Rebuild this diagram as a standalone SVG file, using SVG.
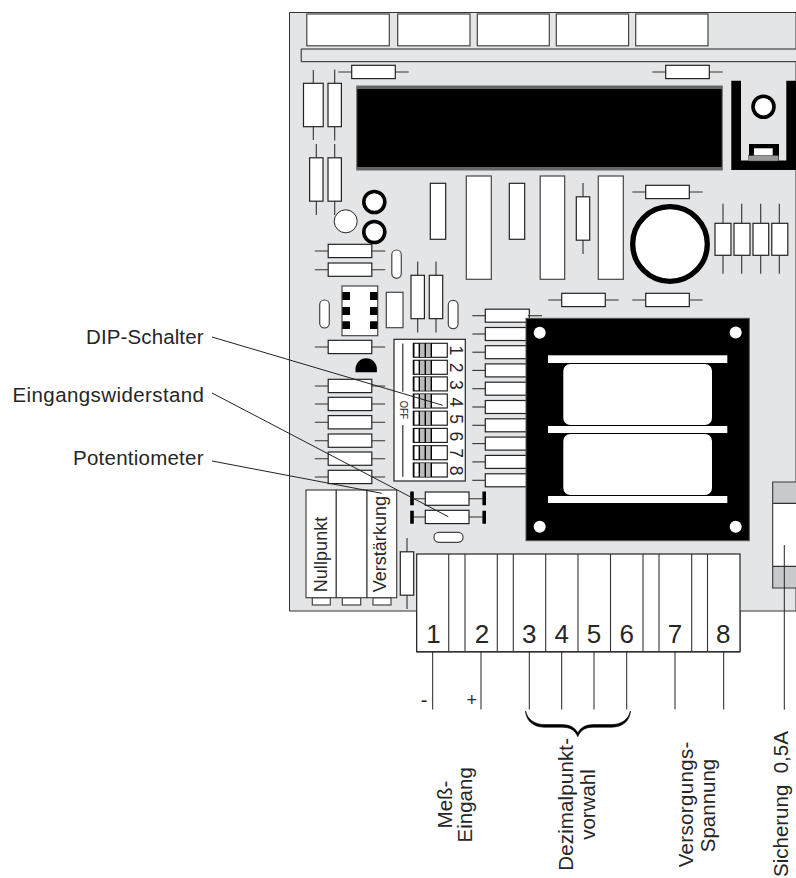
<svg xmlns="http://www.w3.org/2000/svg" width="796" height="878" viewBox="0 0 796 878">
<style>
.p{fill:#fff;stroke:#222;stroke-width:1.200}
.g{fill:#fff;stroke:#444;stroke-width:1.200}
.l{stroke:#333;stroke-width:1.100;fill:none}
.b{fill:#000}
.ll{stroke:#222;stroke-width:1;fill:none}
text{font-family:"Liberation Sans",Arial,sans-serif;fill:#262626}
.t{font-size:20.5px}
.r{font-size:18px}
.n{font-size:26px;text-anchor:middle}
.d{font-size:17.5px;text-anchor:middle}
</style>
<defs>
<g id="rh"><path class="l" d="M-35.200 0H-21.800M21.800 0H35.200"/><rect class="p" x="-21.800" y="-6.700" width="43.600" height="13.300"/></g>
<g id="rv"><path class="l" d="M0-35.500V-21.500M0 21.500V35.500"/><rect class="p" x="-6.700" y="-21.700" width="13.400" height="43.400"/></g>
<g id="sw"><rect class="p" x="0" y="0" width="34" height="14"/><rect x="6" y="0.500" width="12" height="13" fill="#bbb"/><path d="M0.500 0V14M6 0V14M12 0V14M18 0V14" stroke="#000" stroke-width="1.400" fill="none"/></g>
<g id="rr"><path class="l" d="M-13 0H0"/><rect class="p" x="0" y="-6.500" width="44" height="13"/></g>
</defs>

<g id="board"><path d="M796 12.500H289.500V611H416.500V652H740V611H796Z" fill="#e4e5e7" stroke="#333" stroke-width="1"/></g>

<g id="top-connectors">
<rect class="g" x="306.800" y="14" width="82.500" height="31.800"/>
<rect class="g" x="397.700" y="14" width="72.300" height="31.800"/>
<rect class="g" x="477.300" y="14" width="72" height="31.800"/>
<rect class="g" x="556.300" y="14" width="72.300" height="31.800"/>
<rect class="g" x="635.700" y="14" width="72.300" height="31.800"/>
<path d="M796 49H301.200V61.700H796" fill="#e4e5e7" stroke="#222" stroke-width="1"/>
</g>

<g id="resistors-top">
<use href="#rh" x="373.500" y="72"/>
<use href="#rh" x="687.500" y="72"/>
<path class="l" d="M313.300 70V84M313.300 126V140"/><rect class="p" x="303.500" y="83.300" width="19.700" height="43.400"/>
<use href="#rv" x="334.700" y="105"/>
<use href="#rv" x="316.300" y="179.500"/>
<use href="#rv" x="334.700" y="179.500"/>
</g>

<g id="display"><rect x="356.800" y="86" width="365.400" height="84" fill="#000" stroke="#666" stroke-width="1"/><rect x="357" y="86" width="365" height="3" fill="#666"/><rect x="357" y="167" width="365" height="3" fill="#666"/></g>

<g id="heatsink">
<path class="b" d="M731.300 80.700H741V160.500H786.300V80.700H796V170H731.300Z"/>
<circle cx="763.500" cy="106.700" r="10.500" fill="#fff" stroke="#000" stroke-width="3.600"/>
<rect class="b" x="749" y="144" width="30" height="17"/>
<rect x="754" y="148.300" width="18.700" height="7.400" fill="#fff"/>
<rect x="748.500" y="155.700" width="30" height="5.300" fill="#999" stroke="#444" stroke-width="0.500"/>
</g>

<g id="ics">
<rect class="p" x="430.300" y="183.300" width="15.400" height="56"/>
<rect class="g" x="466.300" y="176" width="25" height="103.300"/>
<rect class="p" x="509.300" y="183.300" width="15.400" height="56"/>
<rect class="g" x="540.200" y="176" width="24.500" height="103.300"/>
<use href="#rv" x="583" y="218.500"/>
<rect class="g" x="598.300" y="176" width="25" height="103.300"/>
<use href="#rh" x="667.500" y="192"/>
<use href="#rh" x="583.500" y="300"/>
<use href="#rh" x="667.500" y="300"/>
</g>

<g id="capacitor"><circle cx="670" cy="244" r="37.300" fill="#fff" stroke="#000" stroke-width="5.300"/></g>

<g id="resistors-right">
<path class="l" d="M723 203.700V223M741.700 203.700V223M760.700 203.700V223M779.300 203.700V223M723 255V273.700M741.700 255V273.700M760.700 255V273.700M779.300 255V273.700"/>
<rect class="p" x="715" y="223.300" width="16" height="32"/>
<rect class="p" x="734" y="223.300" width="16" height="32"/>
<rect class="p" x="753" y="223.300" width="15.700" height="32"/>
<rect class="p" x="771.800" y="223.300" width="16" height="32"/>
</g>

<g id="rings">
<circle cx="345.700" cy="221.300" r="11.500" fill="#fff" stroke="#222" stroke-width="1"/>
<circle cx="374.300" cy="202" r="10.500" fill="#fff" stroke="#000" stroke-width="3.600"/>
<circle cx="374.300" cy="232" r="10.500" fill="#fff" stroke="#000" stroke-width="3.600"/>
</g>

<g id="resistors-left">
<use href="#rh" x="350" y="251"/>
<use href="#rh" x="350" y="269.700"/>
<use href="#rh" x="350" y="347"/>
<use href="#rh" x="350" y="386"/>
<use href="#rh" x="350" y="404"/>
<use href="#rh" x="350" y="422.300"/>
<use href="#rh" x="350" y="440.700"/>
<use href="#rh" x="350" y="458.700"/>
<use href="#rh" x="350" y="477"/>
<path class="b" d="M355.500 372.300V369A10.700 10.700 0 0 1 376.900 369V372.300Z"/>
</g>

<g id="pills">
<rect class="g" x="391.800" y="250" width="9.500" height="28.300" rx="4.700"/>
<rect class="g" x="319.700" y="300" width="9.600" height="28" rx="4.700"/>
<rect class="g" x="448.300" y="300.300" width="9.700" height="28.400" rx="4.700"/>
<rect class="g" x="434" y="532.300" width="29" height="10" rx="4.700"/>
</g>

<g id="ic-socket">
<rect class="g" x="342" y="286" width="35.700" height="49.700"/>
<path class="b" d="M342.300 292H350V300H342.300ZM342.300 307H350V315H342.300ZM342.300 321.300H350V329H342.300ZM370 292H377.500V300H370ZM370 307H377.500V315H370ZM370 321.300H377.500V329H370Z"/>
<rect class="g" x="386.300" y="292.300" width="16.700" height="35.400"/>
<use href="#rv" x="417.700" y="297"/>
<use href="#rv" x="436" y="297"/>
</g>

<g id="resistor-stack">
<use href="#rr" x="485.300" y="315.700"/>
<path class="l" d="M528 315.700H542"/>
<use href="#rr" x="485.300" y="334"/>
<use href="#rr" x="485.300" y="352.200"/>
<use href="#rr" x="485.300" y="370.400"/>
<use href="#rr" x="485.300" y="388.700"/>
<use href="#rr" x="485.300" y="407"/>
<use href="#rr" x="485.300" y="425.300"/>
<use href="#rr" x="485.300" y="443.600"/>
<use href="#rr" x="485.300" y="461.900"/>
<use href="#rr" x="485.300" y="480.300"/>
</g>

<g id="transformer">
<rect x="526" y="318.300" width="223.300" height="222.400" fill="#000" stroke="#555" stroke-width="1"/>
<circle cx="539.700" cy="332.700" r="6" fill="#fff"/><circle cx="735.700" cy="332.500" r="6" fill="#fff"/>
<circle cx="539.700" cy="526.700" r="6" fill="#fff"/><circle cx="735.700" cy="526.700" r="6" fill="#fff"/>
<rect x="548" y="355.300" width="179.300" height="7.700" fill="#fff"/>
<rect x="548" y="426" width="179.300" height="7" fill="#fff"/>
<rect x="548" y="496" width="179.300" height="7" fill="#fff"/>
<rect x="563.300" y="364" width="148.700" height="61" rx="7" fill="#fff"/>
<rect x="563.300" y="434" width="148.700" height="61" rx="7" fill="#fff"/>
</g>

<g id="dip-switch">
<rect class="p" x="394" y="339.300" width="71.300" height="141.700"/>
<path d="M402.800 343.500V391.700M402.800 425V476.700" stroke="#333" stroke-width="1.200" fill="none"/>
<text transform="translate(399.500 400.700) rotate(90)" font-size="11" textLength="18.600" lengthAdjust="spacingAndGlyphs">OFF</text>
<use href="#sw" x="413.300" y="343.300"/>
<use href="#sw" x="413.300" y="360.300"/>
<use href="#sw" x="413.300" y="376.900"/>
<use href="#sw" x="413.300" y="394"/>
<use href="#sw" x="413.300" y="411.200"/>
<use href="#sw" x="413.300" y="428.400"/>
<use href="#sw" x="413.300" y="445.700"/>
<use href="#sw" x="413.300" y="463"/>
<g>
<text class="d" transform="translate(449.500 350.300) rotate(90)">1</text>
<text class="d" transform="translate(449.500 367.600) rotate(90)">2</text>
<text class="d" transform="translate(449.500 384.800) rotate(90)">3</text>
<text class="d" transform="translate(449.500 402) rotate(90)">4</text>
<text class="d" transform="translate(449.500 419.200) rotate(90)">5</text>
<text class="d" transform="translate(449.500 436.400) rotate(90)">6</text>
<text class="d" transform="translate(449.500 453.200) rotate(90)">7</text>
<text class="d" transform="translate(449.500 470.500) rotate(90)">8</text>
</g>
</g>

<g id="trimmers">
<rect class="g" x="312.300" y="597.700" width="18" height="7.300"/>
<rect class="g" x="342.300" y="597.700" width="18.400" height="7.300"/>
<rect class="g" x="373" y="597.700" width="18" height="7.300"/>
<rect class="g" x="306" y="490" width="30.300" height="107.700"/>
<rect class="g" x="336.300" y="490" width="30.700" height="107.700"/>
<rect class="g" x="367" y="490" width="29.700" height="107.700"/>
<text class="r" transform="translate(326.500 592.300) rotate(-90)" textLength="75.700">Nullpunkt</text>
<text class="r" transform="translate(386.300 592.300) rotate(-90)" textLength="96.300">Verstärkung</text>
</g>

<g id="resistor-lower"><use href="#rv" x="407" y="573.500"/></g>

<g id="input-resistors">
<path class="l" d="M412 498.700H483M412 517H483"/>
<rect class="p" x="425.300" y="492" width="43.700" height="13.300"/>
<rect class="p" x="425.300" y="510.300" width="43.700" height="13.300"/>
<path class="b" d="M410.200 491.500H413.800V505.300H410.200ZM410.200 510.800H413.800V523.700H410.200ZM482.400 491.500H486V505.300H482.400ZM482.400 510.800H486V523.700H482.400Z"/>
</g>

<g id="fuse">
<rect x="772.700" y="482" width="24" height="106" fill="#fff"/>
<rect x="773" y="482.300" width="24" height="21" fill="#c8c9ca"/>
<rect x="773" y="566.500" width="24" height="21.300" fill="#c8c9ca"/>
<path class="l" d="M796 482H772.700V588H796M772.700 503.400H796M772.700 566.400H796"/>
</g>

<g id="terminal-block">
<rect class="p" x="416.700" y="554" width="323.300" height="97.700"/>
<path class="l" d="M448.700 554V651.700M465 554V651.700M497.300 554V651.700M513.300 554V651.700M545.700 554V651.700M578 554V651.700M610.500 554V651.700M643 554V651.700M659 554V651.700M691.700 554V651.700M707.500 554V651.700"/>
<text class="n" x="433.500" y="643.300">1</text>
<text class="n" x="482" y="643.300">2</text>
<text class="n" x="529.300" y="643.300">3</text>
<text class="n" x="561.700" y="643.300">4</text>
<text class="n" x="594" y="643.300">5</text>
<text class="n" x="626.700" y="643.300">6</text>
<text class="n" x="675" y="643.300">7</text>
<text class="n" x="723.300" y="643.300">8</text>
</g>

<g id="connectors">
<path class="ll" d="M212 337L442.700 405.300M212 393L448.300 516.700M212 461L381.700 493.300"/>
<path class="ll" d="M432.700 651.700V709.500M481 651.700V709.500M529.300 651.700V709.500M561.700 651.700V709.500M594 651.700V709.500M626.700 651.700V709.500M675 651.700V709.500M723.700 651.700V709.500M784.300 545V709.700"/>
<path d="M525.500 711C526.500 721 533 727 544 727.200H562C570 727.200 575 730 577.800 736.700C580.500 730 585.500 727.200 593.500 727.200H612C623 727 629.500 721 630.500 711C628.500 719 622 724.300 612 724.600H593.500C585.500 724.800 580.500 727.500 577.800 733C575 727.500 570 724.800 562 724.600H544C534 724.300 527.500 719 525.500 711Z" fill="#000" stroke="#000" stroke-width="0.600"/>
</g>

<g id="labels">
<text class="t" x="86" y="344" textLength="117.500">DIP-Schalter</text>
<text class="t" x="12.500" y="401.700" textLength="191.500">Eingangswiderstand</text>
<text class="t" x="73" y="465.300" textLength="130.500">Potentiometer</text>
<text font-size="20" x="424" y="707" text-anchor="middle">-</text>
<text font-size="18" x="471.700" y="706" text-anchor="middle">+</text>
<text class="t" text-anchor="middle" transform="translate(451.700 804.500) rotate(-90)">Meß-</text>
<text class="t" text-anchor="middle" transform="translate(471.700 804.800) rotate(-90)">Eingang</text>
<text class="t" transform="translate(573.300 870.700) rotate(-90)" textLength="132.700">Dezimalpunkt-</text>
<text class="t" text-anchor="middle" transform="translate(595 804.500) rotate(-90)">vorwahl</text>
<text class="t" transform="translate(693.300 867.300) rotate(-90)" textLength="125.600">Versorgungs-</text>
<text class="t" text-anchor="middle" transform="translate(715 805.500) rotate(-90)">Spannung</text>
<text class="t" xml:space="preserve" transform="translate(788.300 877) rotate(-90)">Sicherung  0,5A</text>
</g>
</svg>
